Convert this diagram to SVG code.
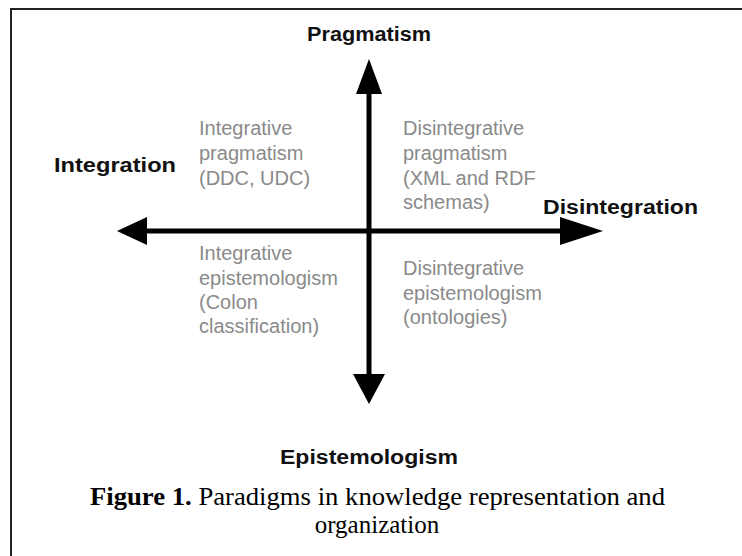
<svg xmlns="http://www.w3.org/2000/svg" width="742" height="556" viewBox="0 0 742 556">
<style>
.axis-label{font-family:"Liberation Sans",Arial,sans-serif;font-weight:bold;font-size:20px;fill:#111;}
.quad{font-family:"Liberation Sans",Arial,sans-serif;font-size:20px;fill:#8a8a8a;}
.cap{font-family:"Liberation Serif","Times New Roman",serif;font-size:25px;fill:#000;}
.axis{stroke:#000;stroke-width:5;fill:none;}
.head{fill:#000;}
</style>
<rect width="742" height="556" fill="#fff"/>
<path d="M11 556 V9 H742" fill="none" stroke="#222" stroke-width="2"/>

<g id="connectors">
  <line class="axis" x1="369" y1="90" x2="369" y2="378"/>
  <line class="axis" x1="144" y1="231" x2="563" y2="231"/>
  <polygon class="head" points="369,59 356,94 382,94"/>
  <polygon class="head" points="369,404 353,374 385,374"/>
  <polygon class="head" points="117,231 147,217 147,245"/>
  <polygon class="head" points="603,231 560,217 560,245"/>
</g>

<g id="pragmatism"><text class="axis-label" x="369" y="41" text-anchor="middle" textLength="124" lengthAdjust="spacingAndGlyphs">Pragmatism</text></g>
<g id="integration"><text class="axis-label" x="54" y="172" textLength="122" lengthAdjust="spacingAndGlyphs">Integration</text></g>
<g id="disintegration"><text class="axis-label" x="543" y="214" textLength="155" lengthAdjust="spacingAndGlyphs">Disintegration</text></g>
<g id="epistemologism"><text class="axis-label" x="369" y="464" text-anchor="middle" textLength="178" lengthAdjust="spacingAndGlyphs">Epistemologism</text></g>

<g id="integrative-pragmatism">
  <text class="quad" x="199" y="135">Integrative</text>
  <text class="quad" x="199" y="160">pragmatism</text>
  <text class="quad" x="199" y="185">(DDC, UDC)</text>
</g>
<g id="disintegrative-pragmatism">
  <text class="quad" x="403" y="135">Disintegrative</text>
  <text class="quad" x="403" y="160">pragmatism</text>
  <text class="quad" x="403" y="185">(XML and RDF</text>
  <text class="quad" x="403" y="209">schemas)</text>
</g>
<g id="integrative-epistemologism">
  <text class="quad" x="199" y="260">Integrative</text>
  <text class="quad" x="199" y="285">epistemologism</text>
  <text class="quad" x="199" y="309">(Colon</text>
  <text class="quad" x="199" y="333">classification)</text>
</g>
<g id="disintegrative-epistemologism">
  <text class="quad" x="403" y="275">Disintegrative</text>
  <text class="quad" x="403" y="300">epistemologism</text>
  <text class="quad" x="403" y="324">(ontologies)</text>
</g>

<g id="caption">
  <text class="cap" x="90" y="505" textLength="575" lengthAdjust="spacingAndGlyphs"><tspan font-weight="bold">Figure 1.</tspan> Paradigms in knowledge representation and</text>
  <text class="cap" x="377" y="533" text-anchor="middle">organization</text>
</g>
</svg>
